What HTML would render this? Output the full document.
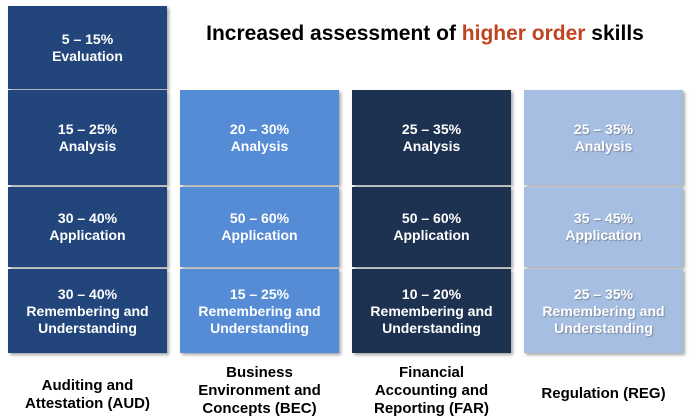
<!DOCTYPE html>
<html><head><meta charset="utf-8"><style>
body{margin:0;width:690px;height:419px;background:#fff;position:relative;overflow:hidden;font-family:"Liberation Sans",Arial,sans-serif}
.c{position:absolute;display:flex;align-items:center;justify-content:center;text-align:center;color:#fff;font-weight:bold;font-size:14px;line-height:17px;box-shadow:2px 2px 3px rgba(0,0,0,0.35)}
.aud{background:#22467b}.bec{background:#558cd5}.far{background:#1d3150}.reg{background:#a5bee1;text-shadow:1px 1px 1px #7a8aa0}
.l{position:absolute;text-align:center;font-weight:bold;font-size:15px;line-height:18px;color:#000}
</style></head><body>
<div style="position:absolute;left:190px;top:22px;width:470px;text-align:center;font-weight:bold;font-size:21px;">Increased assessment of <span style="color:#c0441f">higher order</span> skills</div>
<div id="grid"></div>
<script>
const exams=['aud','bec','far','reg'];
const examLabels=['Auditing and<br>Attestation (AUD)','Business<br>Environment and<br>Concepts (BEC)','Financial<br>Accounting and<br>Reporting (FAR)','Regulation (REG)'];
const skills=['Evaluation','Analysis','Application','Remembering and<br>Understanding'];
const ranges=[['5 – 15%','15 – 25%','30 – 40%','30 – 40%'],[null,'20 – 30%','50 – 60%','15 – 25%'],[null,'25 – 35%','50 – 60%','10 – 20%'],[null,'25 – 35%','35 – 45%','25 – 35%']];
const xs=[8,180,352,524],w=159;
const rows=[[6,83],[90,95],[187,80],[269,84]];
const g=document.body;
exams.forEach((e,i)=>{
  ranges[i].forEach((r,j)=>{
    if(r===null)return;
    const d=document.createElement('div');
    d.className='c '+e;
    
    
    d.style.left=xs[i]+'px';d.style.top=rows[j][0]+'px';d.style.width=w+'px';d.style.height=rows[j][1]+'px';
    d.innerHTML=r+'<br>'+skills[j];
    g.appendChild(d);
  });
  const l=document.createElement('div');
  l.className='l';
  
  
  const lines=examLabels[i].split('<br>').length;
  l.style.left=(xs[i]-10)+'px';l.style.width=(w+20)+'px';
  l.style.top=(lines===3?364:(lines===2?377:385))+'px';
  l.innerHTML=examLabels[i];
  g.appendChild(l);
});
</script>
</body></html>
